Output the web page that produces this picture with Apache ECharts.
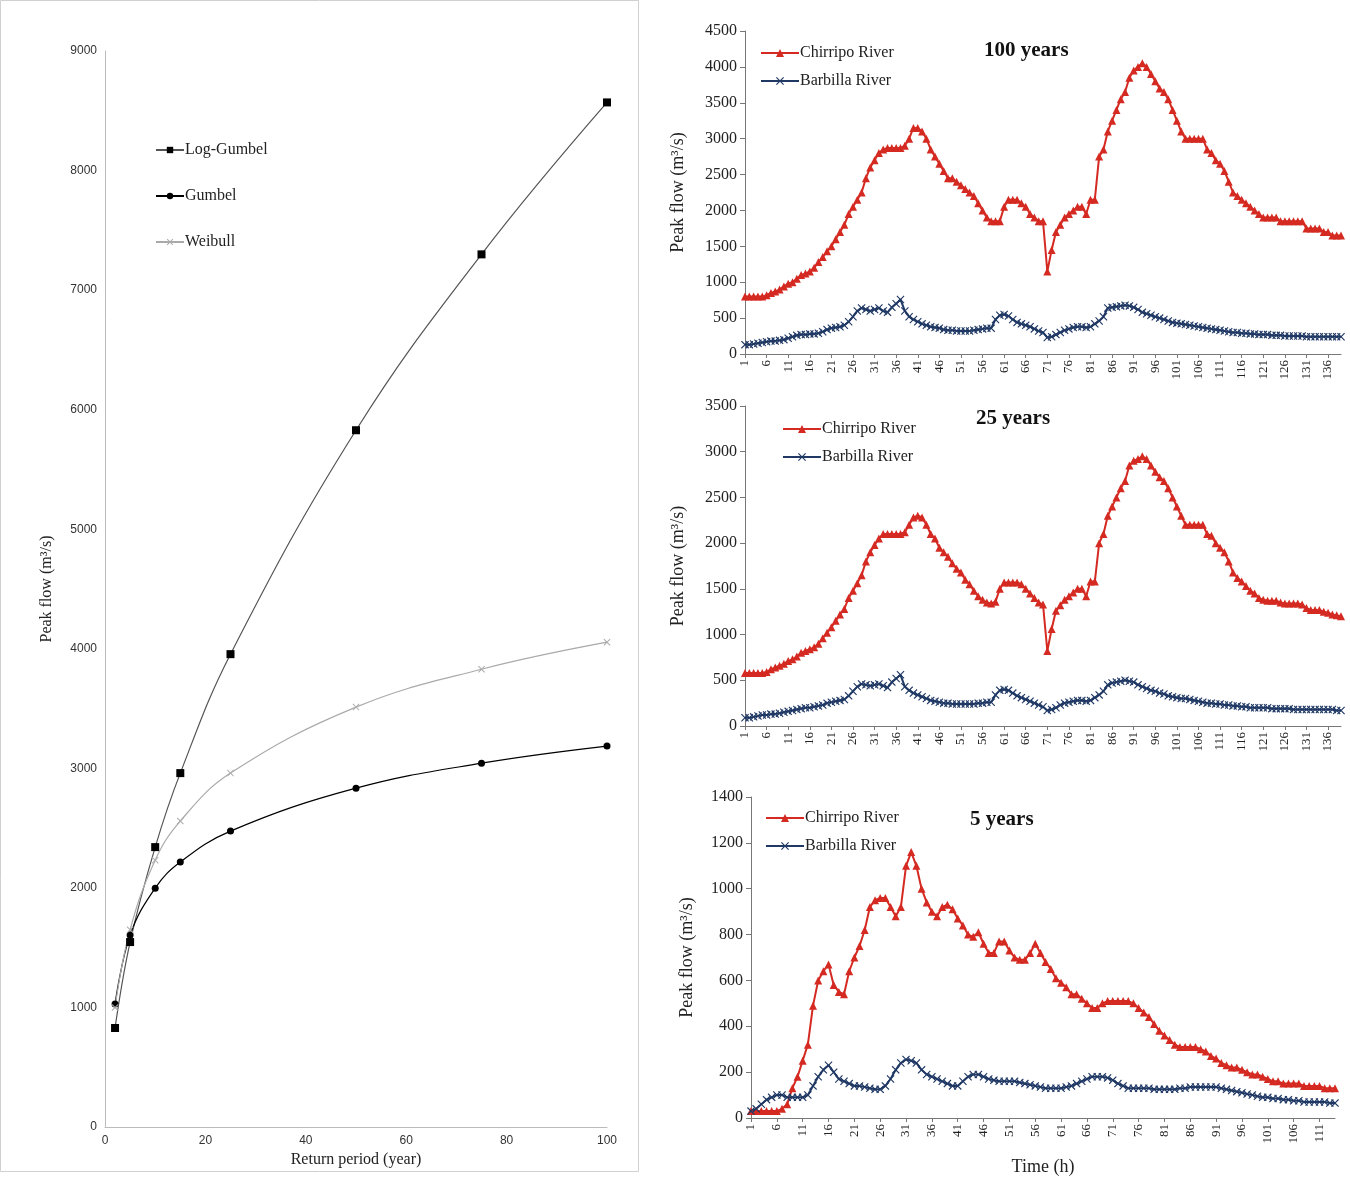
<!DOCTYPE html>
<html><head><meta charset="utf-8">
<script src="https://cdn.jsdelivr.net/npm/echarts@6/dist/echarts.min.js"></script>
<style>html,body{margin:0;padding:0;background:#fff}#c{width:1350px;height:1181px}</style>
</head><body><div id="c"></div>
<script>
const returnPeriods=[2,5,10,15,25,50,75,100];
const logGumbel=[828,1547,2341,2960,3955,5828,7299,8570];
const gumbel=[1028,1605,1998,2216,2475,2834,3043,3186];
const weibull=[1000,1650,2232,2559,2960,3512,3829,4055];

const chir100=[800,800,800,800,800,820,850,870,900,940,980,1000,1050,1100,1120,1150,1200,1280,1350,1430,1500,1600,1700,1800,1950,2050,2150,2250,2450,2600,2700,2800,2850,2870,2870,2870,2870,2900,3000,3150,3150,3100,3000,2850,2750,2650,2550,2450,2450,2400,2350,2300,2250,2200,2100,2000,1900,1850,1850,1850,2050,2150,2150,2150,2100,2050,1950,1900,1850,1850,1150,1450,1700,1800,1900,1950,2000,2050,2050,1950,2150,2150,2750,2850,3100,3250,3400,3550,3650,3850,3950,4000,4050,4000,3900,3800,3700,3650,3550,3400,3250,3100,3000,3000,3000,3000,3000,2850,2800,2700,2650,2550,2400,2250,2200,2150,2100,2050,2000,1950,1900,1900,1900,1900,1850,1850,1850,1850,1850,1850,1750,1750,1750,1750,1700,1700,1650,1650,1650];
const barb100=[130,130,140,150,160,170,180,180,190,200,220,240,260,270,270,280,280,290,310,340,360,370,380,400,450,520,600,640,620,600,620,640,600,580,650,700,760,600,520,480,450,420,400,380,370,360,340,330,330,320,320,320,320,330,340,350,360,360,480,540,550,530,480,440,420,400,380,350,320,300,230,240,270,300,330,350,370,380,380,370,380,420,460,520,640,650,660,670,680,670,650,620,580,560,540,520,500,480,460,440,430,420,410,400,390,380,370,360,350,340,330,320,310,300,300,290,290,280,280,270,270,270,260,260,260,250,250,250,250,250,240,240,240,240,240,240,240,240,240];
const chir25=[580,580,580,580,580,590,620,640,660,680,710,730,760,800,820,840,860,900,960,1020,1080,1150,1220,1280,1400,1480,1560,1650,1800,1900,1980,2050,2100,2100,2100,2100,2100,2120,2200,2280,2300,2280,2200,2100,2050,1950,1900,1850,1780,1720,1680,1600,1550,1480,1420,1380,1350,1340,1360,1500,1570,1570,1570,1570,1550,1500,1450,1400,1350,1330,820,1060,1260,1320,1380,1420,1460,1500,1500,1420,1580,1580,2000,2100,2300,2400,2500,2600,2680,2850,2900,2920,2950,2920,2850,2780,2720,2680,2600,2500,2400,2300,2200,2200,2200,2200,2200,2100,2080,2000,1950,1900,1800,1680,1620,1580,1530,1480,1450,1400,1380,1370,1370,1370,1350,1340,1340,1340,1340,1330,1290,1270,1270,1270,1250,1240,1220,1210,1200];
const barb25=[90,90,100,110,120,120,130,130,140,150,160,170,180,190,200,200,210,220,230,250,260,270,280,290,330,380,430,460,450,440,450,460,440,420,480,520,560,430,390,360,340,320,300,280,270,260,250,250,240,240,240,240,240,240,250,250,260,260,340,390,400,390,360,330,310,290,270,250,230,210,170,180,200,230,250,260,270,280,280,270,280,310,340,380,450,470,480,490,500,490,480,450,430,410,390,380,360,350,330,320,310,300,300,290,280,270,260,250,250,240,240,230,230,220,220,210,210,200,200,200,200,200,190,190,190,190,190,180,180,180,180,180,180,180,180,180,180,170,170];
const chir5=[30,30,30,30,30,30,40,60,130,180,250,320,490,600,640,670,580,550,540,640,700,750,820,920,950,960,960,920,880,920,1100,1160,1100,1000,940,900,880,920,930,910,870,840,800,790,810,760,720,720,770,770,730,700,690,690,720,760,720,680,650,610,590,570,540,540,520,500,480,480,500,510,510,510,510,510,500,480,460,440,410,380,360,340,320,310,310,310,310,300,290,270,260,240,230,220,220,210,200,190,190,180,170,160,160,150,150,150,150,140,140,140,140,130,130,130];
const barb5=[30,40,60,80,90,100,100,90,90,90,90,100,140,180,210,230,200,170,160,150,140,140,135,130,125,125,140,170,210,240,255,250,240,210,190,180,170,160,150,140,140,160,180,190,190,180,170,165,160,160,160,160,155,150,145,140,135,130,130,130,130,135,140,150,160,170,180,180,180,175,165,150,140,130,130,130,130,130,125,125,125,125,125,130,130,135,135,135,135,135,135,130,125,120,115,110,105,100,95,90,90,85,85,80,80,75,75,70,70,70,70,70,65,65];

const hours=n=>Array.from({length:n},(_,i)=>String(i+1));
const serif='Liberation Serif';
const RED='#d42a22', BLUE='#1f3864';
const CROSS='path://M0,1L1,0L5,4L9,0L10,1L6,5L10,9L9,10L5,6L1,10L0,9L4,5Z';

const grids=[
 {left:105,top:51,width:502,height:1076},
 {left:745,top:31,width:596,height:323},
 {left:745,top:406,width:596,height:320},
 {left:751,top:797,width:584,height:321}
];
const yName=(g,gap)=>({nameLocation:'middle',nameGap:gap,name:'Peak flow (m³/s)',nameTextStyle:{fontFamily:serif,fontSize:18,color:'#222'}});
const rightX=(i,n)=>({type:'category',gridIndex:i,data:hours(n),boundaryGap:false,
  axisLine:{lineStyle:{color:'#777'}},axisTick:{show:true,interval:4,lineStyle:{color:'#777'},length:4},
  axisLabel:{interval:4,rotate:90,fontFamily:serif,fontSize:13,color:'#222',margin:6}});
const rightY=(i,max,int,gap)=>Object.assign({type:'value',gridIndex:i,min:0,max:max,interval:int,
  axisLine:{show:true,lineStyle:{color:'#777'}},axisTick:{show:true,lineStyle:{color:'#777'}},splitLine:{show:false},
  axisLabel:{fontFamily:serif,fontSize:16,color:'#222',formatter:v=>String(v)}},yName(i,gap));
const chirS=(i,d)=>({name:'Chirripo River',type:'line',xAxisIndex:i,yAxisIndex:i,data:d,symbol:'triangle',symbolSize:8,showAllSymbol:true,
  lineStyle:{color:RED,width:2},itemStyle:{color:RED}});
const barbS=(i,d)=>({name:'Barbilla River',type:'line',xAxisIndex:i,yAxisIndex:i,data:d,symbol:CROSS,symbolSize:8,showAllSymbol:true,
  lineStyle:{color:BLUE,width:2},itemStyle:{color:BLUE}});
const rLegend=(l,t)=>({orient:'vertical',left:l,top:t,itemGap:12,itemWidth:38,itemHeight:10,
  data:['Chirripo River','Barbilla River'],
  textStyle:{fontFamily:serif,fontSize:16,color:'#222',padding:[0,0,0,-4]}});

const option={
 animation:false,
 graphic:[{type:'rect',shape:{x:0.5,y:0.5,width:638,height:1171},style:{fill:'none',stroke:'#d0d0d0',lineWidth:1}},
  {type:'text',left:984,top:40,style:{text:'100 years',font:'bold 21px "Liberation Serif"',fill:'#111'}},
  {type:'text',left:976,top:408,style:{text:'25 years',font:'bold 21px "Liberation Serif"',fill:'#111'}},
  {type:'text',left:970,top:809,style:{text:'5 years',font:'bold 21px "Liberation Serif"',fill:'#111'}}],
 grid:grids,
 legend:[
  {orient:'vertical',left:150,top:137,itemGap:30,itemWidth:28,itemHeight:8,
   data:['Log-Gumbel','Gumbel','Weibull'],textStyle:{fontFamily:serif,fontSize:16,color:'#222',padding:[0,0,0,-4]}},
  rLegend(755,40),rLegend(777,416),rLegend(760,805)],
 xAxis:[
  {type:'value',gridIndex:0,min:0,max:100,interval:20,name:'Return period (year)',nameLocation:'middle',nameGap:24,
   nameTextStyle:{fontFamily:serif,fontSize:16,color:'#222'},
   axisLine:{lineStyle:{color:'#bbb'}},axisTick:{show:false},splitLine:{show:false},
   axisLabel:{fontFamily:'Liberation Sans',fontSize:12,color:'#333'}},
  rightX(1,139),rightX(2,139),
  Object.assign(rightX(3,114),{name:'Time (h)',nameLocation:'middle',nameGap:40,nameTextStyle:{fontFamily:serif,fontSize:18,color:'#222'}})],
 yAxis:[
  Object.assign({type:'value',gridIndex:0,min:0,max:9000,interval:1000,
   axisLine:{show:true,lineStyle:{color:'#bbb'}},axisTick:{show:false},splitLine:{show:false},
   axisLabel:{fontFamily:'Liberation Sans',fontSize:12,color:'#333',formatter:v=>String(v)}},
   {nameLocation:'middle',nameGap:50,name:'Peak flow (m³/s)',nameTextStyle:{fontFamily:serif,fontSize:16,color:'#222'}}),
  rightY(1,4500,500,58),rightY(2,3500,500,58),rightY(3,1400,200,55)],
 series:[
  {name:'Log-Gumbel',type:'line',smooth:0.4,xAxisIndex:0,yAxisIndex:0,data:returnPeriods.map((x,i)=>[x,logGumbel[i]]),
   symbol:'rect',symbolSize:8,lineStyle:{color:'#555',width:1.2},itemStyle:{color:'#000'}},
  {name:'Gumbel',type:'line',smooth:0.4,xAxisIndex:0,yAxisIndex:0,data:returnPeriods.map((x,i)=>[x,gumbel[i]]),
   symbol:'circle',symbolSize:7,lineStyle:{color:'#000',width:1.2},itemStyle:{color:'#000'}},
  {name:'Weibull',type:'line',smooth:0.4,xAxisIndex:0,yAxisIndex:0,data:returnPeriods.map((x,i)=>[x,weibull[i]]),
   symbol:CROSS,symbolSize:7,lineStyle:{color:'#aaa',width:1.2},itemStyle:{color:'#aaa'}},
  chirS(1,chir100),barbS(1,barb100),chirS(2,chir25),barbS(2,barb25),chirS(3,chir5),barbS(3,barb5)]
};
echarts.init(document.getElementById('c')).setOption(option);
</script></body></html>
